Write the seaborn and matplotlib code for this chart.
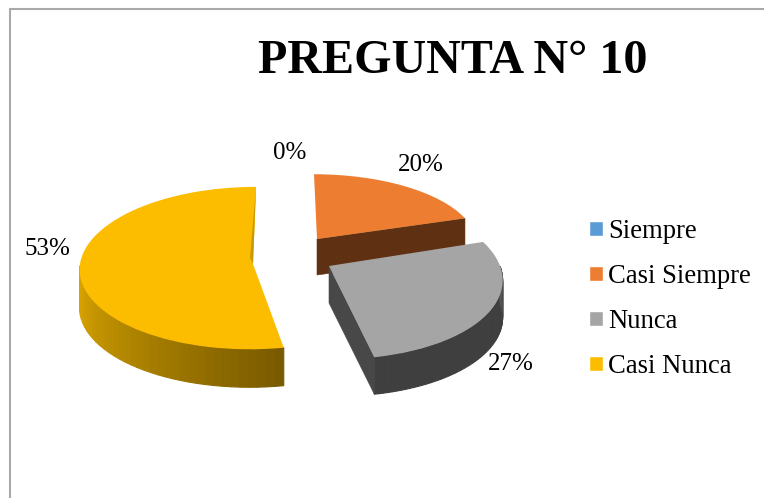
#!/usr/bin/env python3
"""Exploded 3D-look pie: PREGUNTA N° 10."""
from __future__ import annotations

import matplotlib

matplotlib.use("Agg")
import matplotlib.pyplot as plt
import matplotlib.transforms as mtransforms
import numpy as np
import seaborn as sns

TITLE = "PREGUNTA N° 10"
CATEGORIES = ["Siempre", "Casi Siempre", "Nunca", "Casi Nunca"]
VALUES = [0, 20, 27, 53]
COLORS = ["#5b9bd5", "#ed7d31", "#a5a5a5", "#fcbc00"]

# One entry per slice: apex x/y, radius x/y, shear, tilt, depth (pixels of the reference)
SLICE_X = [317, 317, 329, 253]
SLICE_Y = [239, 239, 266, 264]
RADIUS_X = [159, 159, 171, 173]
RADIUS_Y = [68, 68, 81, 81]
SHEAR = [0.046, 0.046, 0.094, -0.04]
TILT = [0.05, 0.05, 0.13, 0.05]
DEPTH = [36, 36, 37, 38]
WALL_LIGHT = ["#2e5f8a", "#5f3112", "#3f3f3f", "#e0aa00"]
WALL_DARK = ["#2e5f8a", "#5f3112", "#5a5a5a", "#765800"]
CUT_WALL = ["#2e5f8a", "#5f3112", "#484848", "#c99a00"]
LABEL_X = [290, 421, 511, 47]
LABEL_Y = [153, 165, 364, 249]


class PiePerspective(mtransforms.Transform):
    """Unit-circle pie coordinates to pixels, with a slight far-side shrink."""

    input_dims = 2
    output_dims = 2

    def __init__(self, i):
        super().__init__()
        self.cx, self.cy = SLICE_X[i], SLICE_Y[i]
        self.rx, self.ry = RADIUS_X[i], RADIUS_Y[i]
        self.shear, self.tilt = SHEAR[i], TILT[i]

    def transform_non_affine(self, values):
        u, v = np.asarray(values, dtype=float).T
        w = 1 + self.tilt * v
        dy = -self.ry * v / w
        dx = self.rx * u / w + self.shear * dy
        return np.column_stack([self.cx + dx, self.cy + dy])


def unit(deg):
    rad = np.deg2rad(deg)
    return np.column_stack([np.cos(rad), np.sin(rad)])


def draw_walls(ax, wedge, proj, i, base):
    depth = DEPTH[i]
    # curved outer wall, only the part that faces the viewer
    angles = np.linspace(wedge.theta1, wedge.theta2, 70)
    angles = angles[np.sin(np.deg2rad(angles)) < 0]
    if len(angles) > 1:
        pts = proj.transform(unit(angles))
        cols = sns.blend_palette([WALL_LIGHT[i], WALL_DARK[i]], len(angles))
        if i == 2:
            # gray wall lightens only near the cut edge
            cols = [WALL_LIGHT[i]] * (len(angles) - 8) + sns.blend_palette(
                [WALL_LIGHT[i], WALL_DARK[i]], 8
            )
        for j in range(len(angles) - 1):
            xs = [pts[j, 0], pts[j + 1, 0], pts[j + 1, 0], pts[j, 0]]
            ys = [pts[j, 1], pts[j + 1, 1], pts[j + 1, 1] + depth, pts[j, 1] + depth]
            ax.fill(xs, ys, color=cols[j], lw=0.8, zorder=base)

    # flat cut face, from the apex to the rim (orange and gray only)
    if i in (1, 2):
        rim = proj.transform(unit([wedge.theta1]))[0]
        apex = proj.transform([[0.0, 0.0]])[0]
        ax.fill(
            [apex[0], rim[0], rim[0], apex[0]],
            [apex[1], rim[1], rim[1] + depth, apex[1] + depth],
            color=CUT_WALL[i],
            lw=0.4,
            zorder=base,
        )


def main() -> None:
    sns.set_theme(style="white")
    plt.rcParams["font.family"] = ["Liberation Serif", "DejaVu Serif"]

    fig, ax = plt.subplots(figsize=(7.64, 4.98), dpi=100)
    ax.set_position([0, 0, 1, 1])

    wedges, _ = ax.pie(VALUES, colors=COLORS, startangle=90, counterclock=False)
    ax.set_aspect("auto")
    ax.set_xlim(0, 764)
    ax.set_ylim(498, 0)

    leg = ax.legend(
        wedges,
        CATEGORIES,
        loc="upper left",
        bbox_to_anchor=(589 / 764, 1 - 219 / 498),
        bbox_transform=ax.transAxes,
        frameon=False,
        fontsize=19.2,
        labelcolor="black",
        handlelength=0.525,
        handleheight=0.525,
        handletextpad=0.19,
        labelspacing=0.75,
        borderpad=0,
        borderaxespad=0,
    )
    leg.set_zorder(10)

    # draw order: orange, gray, yellow
    for i, wedge in enumerate(wedges):
        proj = PiePerspective(i)
        wedge.set_transform(proj + ax.transData)
        base = 2 + i
        wedge.set_zorder(base + 0.5)
        wedge.set_linewidth(0)
        if VALUES[i] > 0:
            draw_walls(ax, wedge, proj, i, base)

    # thin sliver of the inner face on the yellow slice
    proj = PiePerspective(3)
    top = proj.transform([[0.0, 1.0]])[0]
    apex = proj.transform([[0.0, 0.0]])[0]
    ax.fill(
        [top[0], apex[0], apex[0] - 3],
        [top[1], apex[1], apex[1] - 6],
        color=CUT_WALL[3],
        lw=0,
        zorder=6,
    )

    for i, v in enumerate(VALUES):
        ax.text(LABEL_X[i], LABEL_Y[i], f"{v}%", ha="center", va="center",
                fontsize=18, color="black", zorder=11)

    ax.text(453, 61, TITLE, ha="center", va="center", fontsize=34.6,
            fontweight="bold", color="black", zorder=11)

    # chart frame, only left and top are inside the crop
    ax.plot([10, 10], [498, 8], color="#a9a9a9", lw=1.5, solid_capstyle="butt", zorder=1)
    ax.plot([9, 764], [9, 9], color="#a9a9a9", lw=1.5, solid_capstyle="butt", zorder=1)

    ax.axis("off")
    fig.savefig("out.png", dpi=100)
    plt.close(fig)


if __name__ == "__main__":
    main()
